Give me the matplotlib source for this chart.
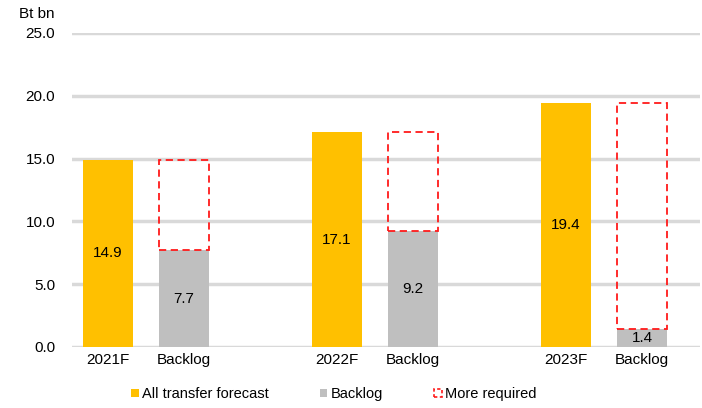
import matplotlib
matplotlib.use("Agg")
import matplotlib.pyplot as plt
from matplotlib.patches import Patch

plt.rcParams['font.family'] = ['Liberation Sans', 'DejaVu Sans']

years = ["2021F", "2022F", "2023F"]
forecast = [14.9, 17.1, 19.4]
backlog = [7.7, 9.2, 1.4]
yticks = [0.0, 5.0, 10.0, 15.0, 20.0, 25.0]

yellow = "#FFC000"
gray = "#BFBFBF"
red = "#FF1A1A"
fs = 11

fig = plt.figure(figsize=(7.02, 4.08), dpi=100)
ax = fig.add_axes([72/702, 61/408, 628/702, 314/408])

w = 0.66
xt, xl = [], []
for i, (y, f, b) in enumerate(zip(years, forecast, backlog)):
    xf = i * 3
    xb = i * 3 + 1
    ax.bar(xf, f, width=w, color=yellow, zorder=3)
    ax.bar(xb, b, width=w, color=gray, zorder=3)
    ax.bar(xb, f - b, bottom=b, width=w, fill=False, edgecolor=red,
           linestyle=(0, (4, 2.5)), linewidth=1.3, zorder=4)
    ax.text(xf, f / 2, f"{f:.1f}", ha="center", va="center", fontsize=fs, zorder=5)
    ax.text(xb, b / 2, f"{b:.1f}", ha="center", va="center", fontsize=fs, zorder=5)
    xt += [xf, xb]
    xl += [y, "Backlog"]

ax.set_xlim(-0.47, 7.76)
ax.set_ylim(0, 25)
ax.set_yticks(yticks)
ax.set_yticklabels([f"{v:.1f}" for v in yticks], fontsize=fs)
ax.set_xticks(xt)
ax.set_xticklabels(xl, fontsize=fs)
ax.tick_params(length=0, pad=4)
ax.tick_params(axis='y', pad=12)
for s in ax.spines.values():
    s.set_visible(False)
ax.yaxis.grid(True, color="#D9D9D9", linewidth=2.5, zorder=0)
ax.set_axisbelow(True)

fig.text(55/702, 1 - 14/408, "Bt bn", ha="right", va="center", fontsize=fs)

handles = [
    Patch(facecolor=yellow, edgecolor="none"),
    Patch(facecolor=gray, edgecolor="none"),
    Patch(facecolor="none", edgecolor=red, linestyle=(0, (2, 1.5)), linewidth=1.2),
]
labels = ["All transfer forecast", "Backlog", "More required"]
fig.legend(handles, labels, loc="center", bbox_to_anchor=(334/702, 1 - 394/408),
           ncol=3, frameon=False, fontsize=10.5, handlelength=0.5, handleheight=0.5,
           handletextpad=0.25, columnspacing=3.5)

fig.savefig("out.png", dpi=100)
